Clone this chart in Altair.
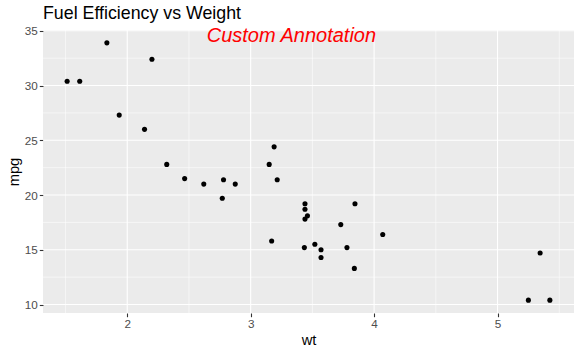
import altair as alt
import pandas as pd

# mtcars: weight (1000 lbs) and miles per gallon
wt = [2.620, 2.875, 2.320, 3.215, 3.440, 3.460, 3.570, 3.190, 3.150, 3.440,
      3.440, 4.070, 3.730, 3.780, 5.250, 5.424, 5.345, 2.200, 1.615, 1.835,
      2.465, 3.520, 3.435, 3.840, 3.845, 1.935, 2.140, 1.513, 3.170, 2.770,
      3.570, 2.780]
mpg = [21.0, 21.0, 22.8, 21.4, 18.7, 18.1, 14.3, 24.4, 22.8, 19.2,
       17.8, 16.4, 17.3, 15.2, 10.4, 10.4, 14.7, 32.4, 30.4, 33.9,
       21.5, 15.5, 15.2, 13.3, 19.2, 27.3, 26.0, 30.4, 15.8, 19.7,
       15.0, 21.4]

x_major = [2, 3, 4, 5]
x_minor = [1.5, 2.5, 3.5, 4.5, 5.5]
y_major = [10, 15, 20, 25, 30, 35]
y_minor = [12.5, 17.5, 22.5, 27.5, 32.5]

ann_x = [3.33]
ann_y = [34.0]
ann_text = ["Custom Annotation"]

FONT = "Liberation Sans"

df = pd.DataFrame({"wt": wt, "mpg": mpg})
xmaj = pd.DataFrame({"v": x_major})
xmin = pd.DataFrame({"v": x_minor})
ymaj = pd.DataFrame({"v": y_major})
ymin = pd.DataFrame({"v": y_minor})
ann = pd.DataFrame({"x": ann_x, "y": ann_y, "t": ann_text})

lo_x, hi_x = min(wt), max(wt)
lo_y, hi_y = min(mpg), max(mpg)
ex = (hi_x - lo_x) * 0.05
ey = (hi_y - lo_y) * 0.05
xs = alt.Scale(domain=[lo_x - ex, hi_x + ex], nice=False, zero=False)
ys = alt.Scale(domain=[lo_y - ey, hi_y + ey], nice=False, zero=False)

axis_common = dict(
    grid=False, domain=False, tickColor="#333333", tickSize=3.7, tickWidth=1.1,
    labelColor="#4D4D4D", labelFontSize=11.7, labelFont=FONT, labelPadding=2,
    titleFont=FONT, titleFontSize=14.7, titleFontWeight="normal", titleColor="black",
)
x_axis = alt.Axis(values=x_major, titlePadding=2, **axis_common)
y_axis = alt.Axis(values=y_major, titlePadding=3, **axis_common)

grid_x_minor = alt.Chart(xmin).mark_rule(color="white", strokeWidth=0.55).encode(
    x=alt.X("v:Q", scale=xs, axis=x_axis, title="wt"))
grid_y_minor = alt.Chart(ymin).mark_rule(color="white", strokeWidth=0.55).encode(
    y=alt.Y("v:Q", scale=ys, axis=y_axis, title="mpg"))
grid_x_major = alt.Chart(xmaj).mark_rule(color="white", strokeWidth=1.1).encode(
    x=alt.X("v:Q", scale=xs, axis=x_axis, title="wt"))
grid_y_major = alt.Chart(ymaj).mark_rule(color="white", strokeWidth=1.1).encode(
    y=alt.Y("v:Q", scale=ys, axis=y_axis, title="mpg"))

points = alt.Chart(df).mark_circle(color="black", opacity=1, size=26).encode(
    x=alt.X("wt:Q", scale=xs, axis=x_axis, title="wt"),
    y=alt.Y("mpg:Q", scale=ys, axis=y_axis, title="mpg"),
)

annotation = alt.Chart(ann).mark_text(
    color="red", fontSize=20, font=FONT, fontStyle="italic",
    align="center", baseline="alphabetic").encode(
    x=alt.X("x:Q", scale=xs, axis=x_axis, title="wt"),
    y=alt.Y("y:Q", scale=ys, axis=y_axis, title="mpg"),
    text="t:N",
)

chart = alt.layer(
    grid_x_minor, grid_y_minor, grid_x_major, grid_y_major, points, annotation
).properties(
    width=531, height=283,
    autosize="none",
    padding={"left": 43, "top": 30, "right": 7, "bottom": 42},
    title=alt.TitleParams("Fuel Efficiency vs Weight", anchor="start",
                          fontSize=17.8, font=FONT, fontWeight="normal",
                          color="black", offset=3, frame="group"),
).configure_view(fill="#EBEBEB", stroke=None)

chart.save("out.html", embed_options={"renderer": "svg", "actions": False})
